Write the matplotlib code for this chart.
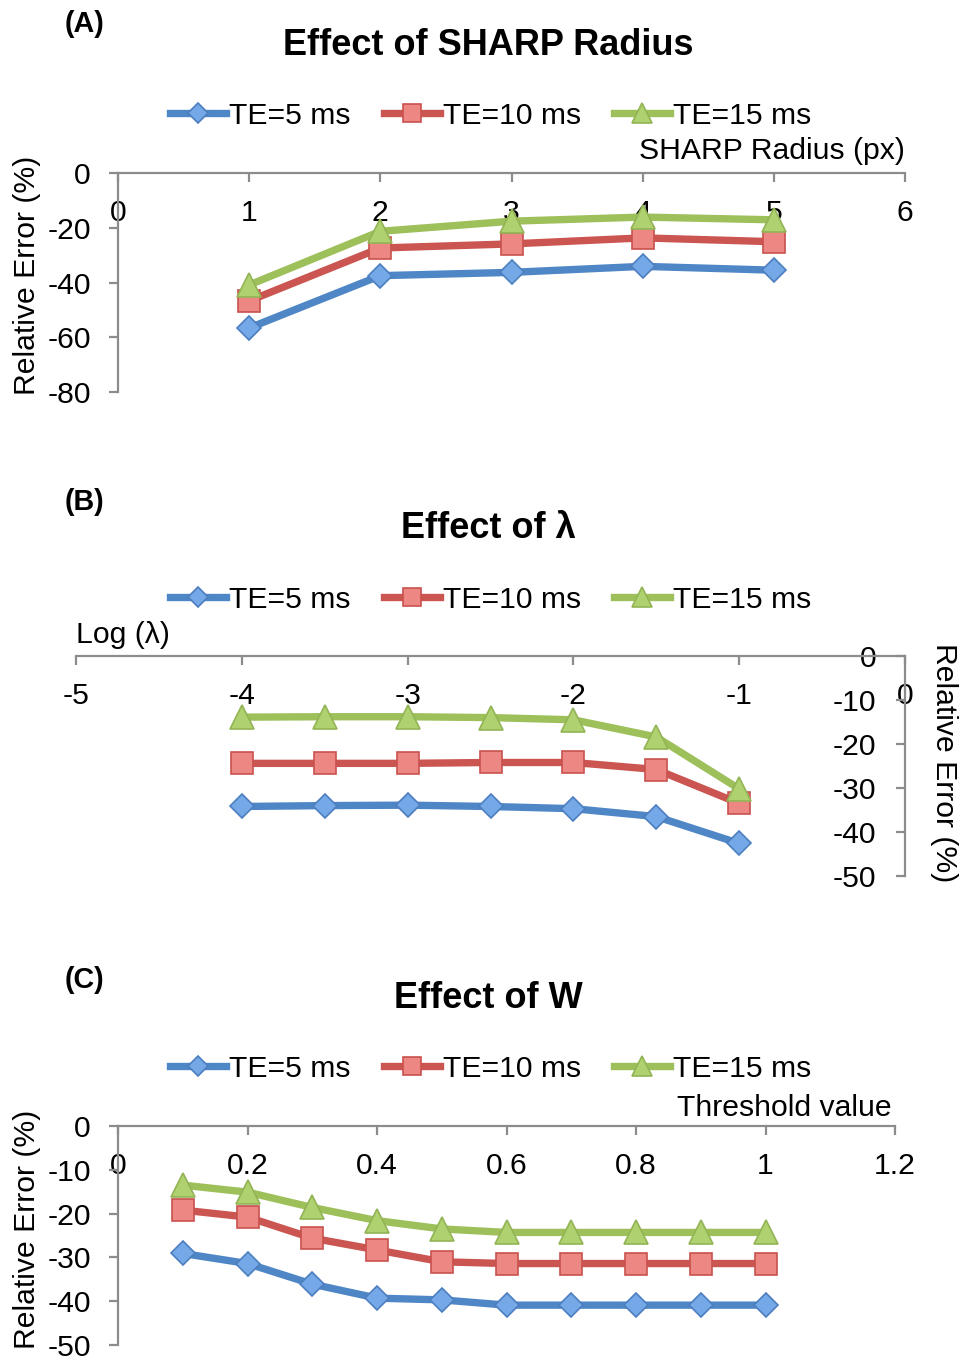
import matplotlib
matplotlib.use("Agg")
import matplotlib.pyplot as plt

W, H = 961, 1360          # output size in pixels (dpi 100)
FS = 21.7                 # body text size
GREY = '#8C8C8C'

plt.rcParams['font.family'] = ['Liberation Sans', 'DejaVu Sans']
plt.rcParams['axes.unicode_minus'] = False

# ── data ──────────────────────────────────────────────────────────────────────
series_names = ["TE=5 ms", "TE=10 ms", "TE=15 ms"]

radius = [1, 2, 3, 4, 5]
radius_te5 = [-56.6, -37.5, -36.3, -34.1, -35.5]
radius_te10 = [-46.7, -27.4, -25.9, -23.7, -25.1]
radius_te15 = [-40.9, -21.3, -17.6, -16.1, -17.1]

log_lambda = [-4, -3.5, -3, -2.5, -2, -1.5, -1]
lambda_te5 = [-34.2, -34.0, -33.9, -34.2, -34.7, -36.5, -42.6]
lambda_te10 = [-24.4, -24.4, -24.4, -24.2, -24.2, -25.8, -33.5]
lambda_te15 = [-13.9, -13.8, -13.8, -14.0, -14.5, -18.4, -30.2]

threshold = [0.1, 0.2, 0.3, 0.4, 0.5, 0.6, 0.7, 0.8, 0.9, 1.0]
w_te5 = [-29.1, -31.4, -36.1, -39.3, -39.7, -40.9, -40.9, -40.9, -40.9, -40.9]
w_te10 = [-19.2, -20.8, -25.6, -28.3, -31.0, -31.4, -31.4, -31.4, -31.4, -31.4]
w_te15 = [-13.5, -15.1, -18.6, -21.6, -23.5, -24.3, -24.3, -24.3, -24.3, -24.3]

radius_ticks = [0, 1, 2, 3, 4, 5, 6]
lambda_ticks = [-5, -4, -3, -2, -1, 0]
w_ticks = [0, 0.2, 0.4, 0.6, 0.8, 1.0, 1.2]
w_tick_labels = ['0', '0.2', '0.4', '0.6', '0.8', '1', '1.2']

# ── styles (Excel-like) ───────────────────────────────────────────────────────
line_colors = ['#4F86C6', '#CB5550', '#9DC05A']
face_colors = ['#74A8E6', '#EC8783', '#AFD16F']
edge_colors = ['#4D7FC0', '#C9524E', '#93B455']
markers = ['D', 's', '^']
marker_sizes = [12.3, 16.5, 17.5]


def rect(left, top, right, bottom):
    """pixel box -> figure fraction [l, b, w, h]"""
    return [left / W, 1 - bottom / H, (right - left) / W, (bottom - top) / H]


def draw_panel(ax, x, ys, xlim, ylim, xticks, yticks, right_axis=False,
               xticklabels=None):
    for y, name, lc, fc, ec, m, ms in zip(ys, series_names, line_colors,
                                          face_colors, edge_colors, markers,
                                          marker_sizes):
        ax.plot(x, y, color=lc, lw=5.3, marker=m, ms=ms, mfc=fc, mec=ec,
                mew=1.2, label=name, solid_joinstyle='round', clip_on=False)
    ax.set_xlim(*xlim)
    ax.set_ylim(*ylim)
    ax.set_xticks(xticks)
    if xticklabels is not None:
        ax.set_xticklabels(xticklabels)
    ax.set_yticks(yticks)

    # x axis sits on y=0 (top), y axis on the left or on x=0 (right)
    ax.spines['top'].set_visible(False)
    ax.spines['right'].set_visible(False)
    ax.spines['bottom'].set_position(('data', 0))
    if right_axis:
        ax.spines['left'].set_position(('data', 0))
    for s in ('bottom', 'left'):
        ax.spines[s].set_color(GREY)
        ax.spines[s].set_linewidth(1.6)
    ax.tick_params(direction='out', length=6.5, width=1.6, color=GREY,
                   labelsize=FS, labelcolor='black')
    ax.tick_params(axis='x', pad=12)
    ax.tick_params(axis='y', pad=14 if right_axis else 13)
    ax.patch.set_visible(False)


def add_legend(ax, y_px):
    ax.legend(loc='center', bbox_to_anchor=(491 / W, 1 - y_px / H),
              bbox_transform=fig.transFigure, ncol=3, frameon=False,
              fontsize=FS, handlelength=1.86, handletextpad=0.1,
              columnspacing=1.1, markerscale=0.8, borderpad=0,
              borderaxespad=0)


def add_headers(letter, title, letter_base, title_base):
    fig.text(65 / W, 1 - letter_base / H, letter, fontsize=20.7,
             fontweight='bold', va='baseline', ha='left')
    fig.text(488.5 / W, 1 - title_base / H, title, fontsize=26,
             fontweight='bold', va='baseline', ha='center')


fig = plt.figure(figsize=(W / 100, H / 100), dpi=100)

# ── (A) SHARP radius ──────────────────────────────────────────────────────────
axA = fig.add_axes(rect(118, 173, 905, 392))
draw_panel(axA, radius, [radius_te5, radius_te10, radius_te15],
           (0, 6), (-80, 0), radius_ticks, [0, -20, -40, -60, -80])
axA.set_xlabel("SHARP Radius (px)", fontsize=FS)
axA.xaxis.set_label_coords(1.0, (392 - 159) / 219)
axA.xaxis.label.set_ha('right')
axA.xaxis.label.set_va('baseline')
axA.set_ylabel("Relative Error (%)", fontsize=FS)
axA.yaxis.set_label_coords((41 - 118) / 787, (392 - 275) / 219)
add_legend(axA, 116)
add_headers("(A)", "Effect of SHARP Radius", 32, 55)

# ── (B) regularisation λ ──────────────────────────────────────────────────────
axB = fig.add_axes(rect(76, 656, 905, 876))
draw_panel(axB, log_lambda, [lambda_te5, lambda_te10, lambda_te15],
           (-5, 0), (-50, 0), lambda_ticks, [0, -10, -20, -30, -40, -50],
           right_axis=True)
axB.set_xlabel("Log (λ)", fontsize=FS)
axB.xaxis.set_label_coords(0.0, (876 - 643) / 220)
axB.xaxis.label.set_ha('left')
axB.xaxis.label.set_va('baseline')
axB.yaxis.set_label_position('right')
axB.set_ylabel("Relative Error (%)", fontsize=FS, rotation=270, va='bottom')
axB.yaxis.set_label_coords((930 - 76) / 829, (876 - 762.5) / 220)
add_legend(axB, 600)
add_headers("(B)", "Effect of λ", 510.5, 538)

# ── (C) threshold W ───────────────────────────────────────────────────────────
axC = fig.add_axes(rect(118, 1126, 895, 1345))
draw_panel(axC, threshold, [w_te5, w_te10, w_te15],
           (0, 1.2), (-50, 0), w_ticks, [0, -10, -20, -30, -40, -50],
           xticklabels=w_tick_labels)
axC.set_xlabel("Threshold value", fontsize=FS)
axC.xaxis.set_label_coords((892 - 118) / 777, (1345 - 1116) / 219)
axC.xaxis.label.set_ha('right')
axC.xaxis.label.set_va('baseline')
axC.set_ylabel("Relative Error (%)", fontsize=FS)
axC.yaxis.set_label_coords((41 - 118) / 777, (1345 - 1229) / 219)
add_legend(axC, 1069)
add_headers("(C)", "Effect of W", 987.5, 1008)

fig.savefig("out.png", dpi=100)
